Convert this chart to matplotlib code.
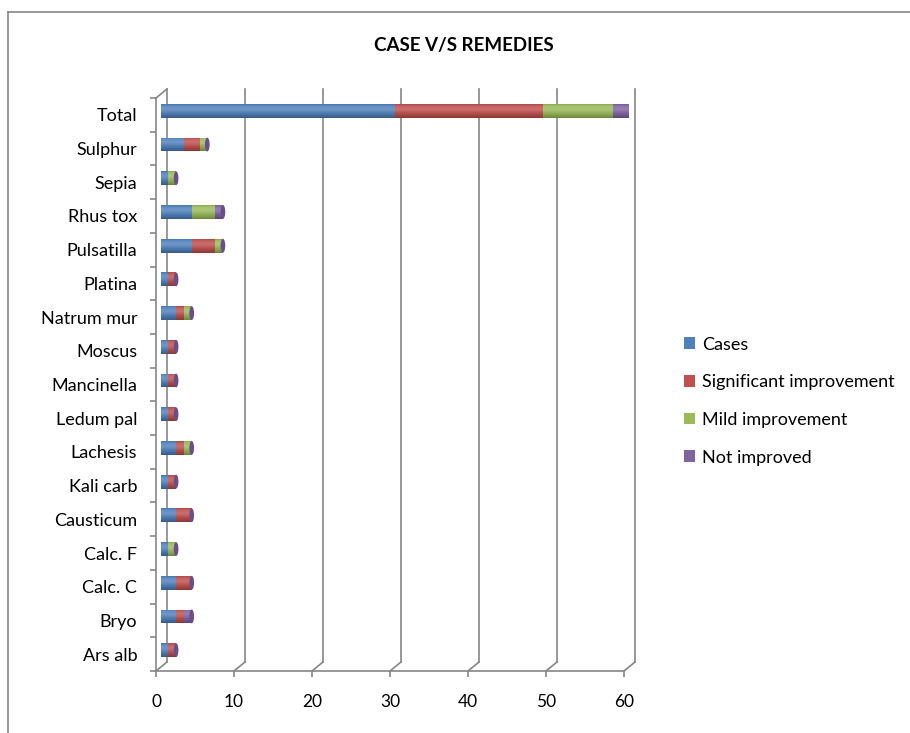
# Gráfico de barras empilhadas: casos x remédios (estilo cilindro 3D do Excel)
import numpy as np
import matplotlib
matplotlib.use('Agg')
import matplotlib.pyplot as plt
from matplotlib import transforms as mtransforms
from matplotlib.patches import Ellipse, Patch
from matplotlib.lines import Line2D
from matplotlib.colors import to_rgb

plt.rcParams['font.family'] = ['Lato', 'DejaVu Sans']

# dados
remedios = ['Ars alb', 'Bryo', 'Calc. C', 'Calc. F', 'Causticum', 'Kali carb',
            'Lachesis', 'Ledum pal', 'Mancinella', 'Moscus', 'Natrum mur',
            'Platina', 'Pulsatilla', 'Rhus tox', 'Sepia', 'Sulphur', 'Total']
casos = [1, 2, 2, 1, 2, 1, 2, 1, 1, 1, 2, 1, 4, 4, 1, 3, 30]
melhora_sig = [1, 1, 2, 0, 2, 1, 1, 1, 1, 1, 1, 1, 3, 0, 0, 2, 19]
melhora_leve = [0, 0, 0, 1, 0, 0, 1, 0, 0, 0, 1, 0, 1, 3, 1, 1, 9]
sem_melhora = [0, 1, 0, 0, 0, 0, 0, 0, 0, 0, 0, 0, 0, 1, 0, 0, 2]
nomes_series = ['Cases', 'Significant improvement', 'Mild improvement', 'Not improved']
cores = ['#4F81BD', '#C0504D', '#9BBB59', '#8064A2']
ticks_x = [0, 10, 20, 30, 40, 50, 60]

series = [casos, melhora_sig, melhora_leve, sem_melhora]
pos_y = np.arange(len(remedios))

fig = plt.figure(figsize=(9.1, 7.33), dpi=100)
ax = fig.add_axes([156 / 910, 62 / 733, 468 / 910, 573 / 733])
ax.set_xlim(0, 60)
ax.set_ylim(-0.5, len(remedios) - 0.5)

cinza = '#868686'

# deslocamentos para imitar a profundidade 3D
fundo = mtransforms.offset_copy(ax.transData, fig=fig, x=11, y=9, units='dots')
meio = mtransforms.offset_copy(ax.transData, fig=fig, x=4.5, y=4, units='dots')
ident = mtransforms.IdentityTransform()

# linhas de grade na parede do fundo + "pés" diagonais
y_base, y_topo = -0.5, len(remedios) - 0.5
for v in ticks_x:
    ax.plot([v, v], [y_base, y_topo], transform=fundo, color=cinza, lw=1.2,
            clip_on=False, zorder=1)
    p0 = ax.transData.transform((v, y_base))
    p1 = fundo.transform((v, y_base))
    fig.add_artist(Line2D([p0[0], p1[0]], [p0[1], p1[1]], transform=ident,
                          color=cinza, lw=1.2))
p0 = ax.transData.transform((0, y_topo))
p1 = fundo.transform((0, y_topo))
fig.add_artist(Line2D([p0[0], p1[0]], [p0[1], p1[1]], transform=ident,
                      color=cinza, lw=1.2))

# gradiente tipo cilindro
t = np.linspace(0, 1, 60)
luz = np.exp(-((t - 0.35) / 0.25) ** 2) * 0.18
sombra = 0.30 * t ** 3 + 0.10 * np.exp(-(t / 0.08) ** 2)


def gradiente(cor):
    c = np.array(to_rgb(cor))
    img = c[None, :] * (1 - sombra[:, None]) + (1 - c[None, :]) * luz[:, None]
    return np.clip(img, 0, 1)[:, None, :]


altura = 0.41
esquerda = np.zeros(len(remedios))
for vals, nome, cor in zip(series, nomes_series, cores):
    barras = ax.barh(pos_y, vals, left=esquerda, height=altura, color=cor,
                     transform=meio, zorder=3, linewidth=0)
    img = gradiente(cor)
    for r in barras:
        if r.get_width() <= 0:
            continue
        x0, y0 = r.get_x(), r.get_y()
        im = ax.imshow(img, extent=[x0, x0 + r.get_width(), y0, y0 + r.get_height()],
                       aspect='auto', transform=meio, zorder=4, interpolation='bilinear')
        im.set_clip_path(r)
    esquerda = esquerda + np.array(vals)

# tampa do cilindro no fim de cada barra
for y, tot in zip(pos_y, esquerda):
    ax.add_patch(Ellipse((tot, y), width=0.6, height=altura, transform=meio,
                         facecolor='#6A4E8C', edgecolor='none', zorder=5))

ax.set_xlim(0, 60)
ax.set_ylim(y_base, y_topo)

for lado in ['top', 'right']:
    ax.spines[lado].set_visible(False)
for lado in ['left', 'bottom']:
    ax.spines[lado].set_color(cinza)
    ax.spines[lado].set_linewidth(1.2)

ax.set_xticks(ticks_x)
ax.tick_params(axis='x', length=4.3, color=cinza, width=1.2, pad=12, labelsize=12.5)
ax.set_yticks(pos_y)
ax.set_yticklabels(remedios)
ax.set_yticks(np.arange(-0.5, len(remedios), 1), minor=True)
ax.tick_params(axis='y', which='major', length=0, pad=13.5, labelsize=13)
ax.tick_params(axis='y', which='minor', length=4.3, color=cinza, width=1.2)

# legenda
alcas = [Patch(facecolor=c, edgecolor='none') for c in cores]
fig.legend(alcas, nomes_series, loc='center left',
           bbox_to_anchor=(668 / 910, 1 - 401 / 733), frameon=False,
           fontsize=13, handlelength=0.6, handleheight=0.6,
           handletextpad=0.4, labelspacing=1.2)

fig.text(464 / 910, 1 - 45 / 733, 'CASE V/S REMEDIES', ha='center', va='center',
         fontsize=13.5, fontweight='bold')

# moldura do gráfico
fig.add_artist(Line2D([8 / 910, 8 / 910], [0, 1 - 12 / 733], color=cinza, lw=1.2))
fig.add_artist(Line2D([8 / 910, 1], [1 - 12 / 733, 1 - 12 / 733], color=cinza, lw=1.2))

fig.savefig('out.png', dpi=100)
